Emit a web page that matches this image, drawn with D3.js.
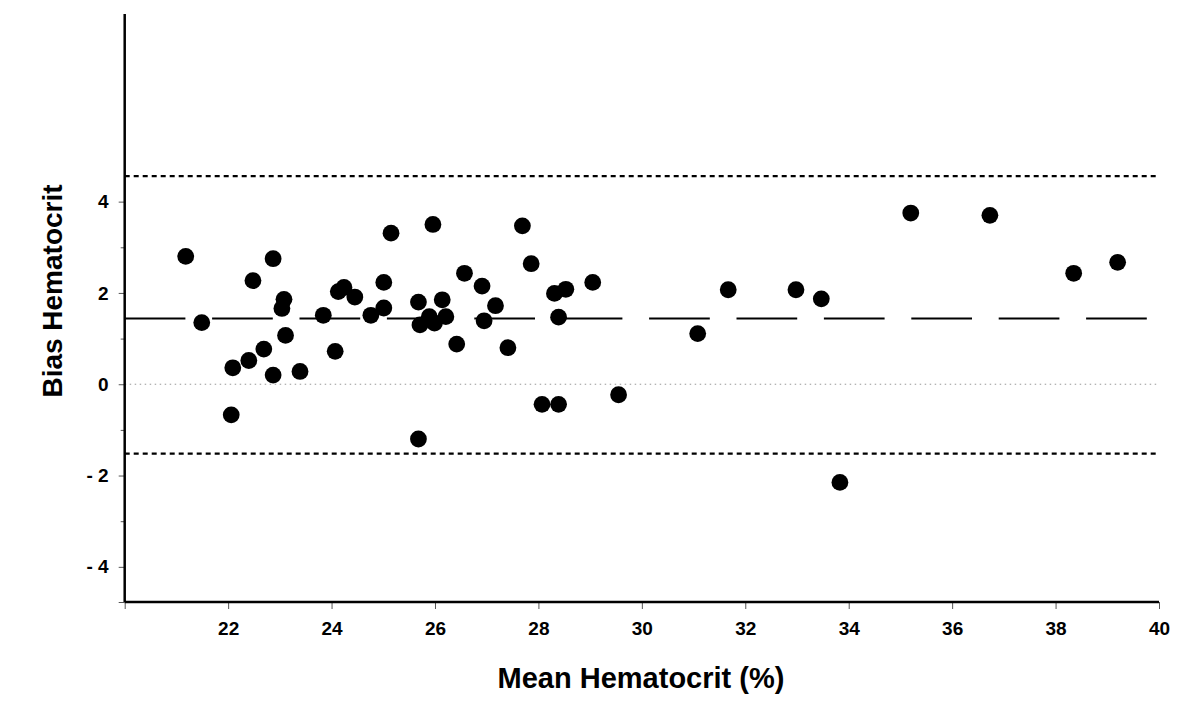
<!doctype html>
<html>
<head>
<meta charset="utf-8" />
<title>Bias Hematocrit</title>
<script src="https://cdn.jsdelivr.net/npm/d3@7"></script>
<style>
  html, body { margin: 0; padding: 0; background: #fff; }
  svg text { font-family: "Liberation Sans", Arial, sans-serif; font-weight: bold; fill: #000; }
</style>
</head>
<body>
<script>
// mean hematocrit (%) per sample
const meanHct = [21.18, 21.49, 22.09, 22.06, 22.40, 22.48, 22.69, 22.87, 22.87, 23.04,
                 23.08, 23.11, 23.39, 23.84, 24.07, 24.13, 24.24, 24.45, 24.76, 25.01,
                 25.01, 25.15, 25.68, 25.68, 25.71, 25.89, 25.96, 25.99, 26.14, 26.21,
                 26.42, 26.57, 26.91, 26.95, 27.17, 27.41, 27.69, 27.86, 28.07, 28.31,
                 28.39, 28.39, 28.53, 29.05, 29.55, 31.08, 31.67, 32.98, 33.47, 33.83,
                 35.20, 36.73, 38.35, 39.20];
// bias (difference) per sample
const biasHct = [2.80, 1.35, 0.36, -0.67, 0.52, 2.27, 0.77, 2.75, 0.20, 1.66,
                 1.86, 1.07, 0.28, 1.51, 0.72, 2.03, 2.12, 1.91, 1.51, 2.23,
                 1.67, 3.31, -1.20, 1.80, 1.30, 1.48, 3.50, 1.34, 1.85, 1.48,
                 0.88, 2.43, 2.15, 1.39, 1.72, 0.80, 3.47, 2.64, -0.44, 1.99,
                 1.47, -0.44, 2.08, 2.23, -0.23, 1.11, 2.07, 2.07, 1.87, -2.15,
                 3.75, 3.70, 2.43, 2.67];
const meanBias = 1.44;
const limits = [4.56, -1.52];
const xTicks = [20, 22, 24, 26, 28, 30, 32, 34, 36, 38, 40];
const yTicks = [-4, -3, -2, -1, 0, 1, 2, 3, 4];

const width = 1200, height = 716;
const svg = d3.select("body").append("svg")
    .attr("width", width).attr("height", height);

const x = d3.scaleLinear().domain([20, 40]).range([124.7, 1159]);
const y = d3.scaleLinear().domain([-4.77, 8.11]).range([602, 14]);

// zero line
svg.append("line")
    .attr("x1", x(20)).attr("x2", x(40))
    .attr("y1", y(0)).attr("y2", y(0))
    .attr("stroke", "#999").attr("stroke-width", 1)
    .attr("stroke-dasharray", "1.5,3.5");

// limits of agreement
svg.selectAll("line.loa").data(limits).join("line")
    .attr("class", "loa")
    .attr("x1", x(20)).attr("x2", x(40))
    .attr("y1", d => y(d)).attr("y2", d => y(d))
    .attr("stroke", "#000").attr("stroke-width", 2.2)
    .attr("stroke-dasharray", "5,4");

// mean bias
svg.append("line")
    .attr("x1", x(20)).attr("x2", x(40))
    .attr("y1", y(meanBias)).attr("y2", y(meanBias))
    .attr("stroke", "#000").attr("stroke-width", 2)
    .attr("stroke-dasharray", "60.7,26.7");

// points
svg.append("g").selectAll("circle")
    .data(d3.range(meanHct.length))
    .join("circle")
    .attr("cx", i => x(meanHct[i]))
    .attr("cy", i => y(biasHct[i]))
    .attr("r", 8.4)
    .attr("fill", "#000");

// axes
const fmtY = d => d % 2 ? "" : (d < 0 ? "- " + Math.abs(d) : String(d));
const yAxis = svg.append("g")
    .attr("transform", `translate(${x(20)},0)`)
    .call(d3.axisLeft(y).tickValues(yTicks.concat([-4.77])).tickSizeOuter(0)
        .tickSize(6).tickPadding(10).tickFormat(d => yTicks.includes(d) ? fmtY(d) : ""));
yAxis.selectAll(".tick line").attr("stroke", "#555")
    .attr("x2", d => (d % 2 && yTicks.includes(d)) ? -4 : -6);
yAxis.selectAll(".tick text").style("font-size", "19px");
yAxis.select(".domain").remove();
yAxis.append("line").attr("y1", 14).attr("y2", 602)
    .attr("stroke", "#000").attr("stroke-width", 2.5);

const xAxis = svg.append("g")
    .attr("transform", `translate(0,${y(-4.77)})`)
    .call(d3.axisBottom(x).tickValues(xTicks).tickSizeOuter(0)
        .tickSize(7).tickPadding(13).tickFormat(d => d === 20 ? "" : d));
xAxis.selectAll(".tick line").attr("stroke", "#555");
xAxis.selectAll(".tick text").style("font-size", "19px");
xAxis.select(".domain").remove();
xAxis.append("line").attr("x1", x(20)).attr("x2", x(40))
    .attr("stroke", "#000").attr("stroke-width", 2.5);

// titles
svg.append("text")
    .attr("x", 641).attr("y", 688)
    .attr("text-anchor", "middle")
    .style("font-size", "29px")
    .text("Mean Hematocrit (%)");

svg.append("text")
    .attr("transform", "translate(62,291) rotate(-90)")
    .attr("text-anchor", "middle")
    .style("font-size", "28px")
    .text("Bias Hematocrit");
</script>
</body>
</html>
